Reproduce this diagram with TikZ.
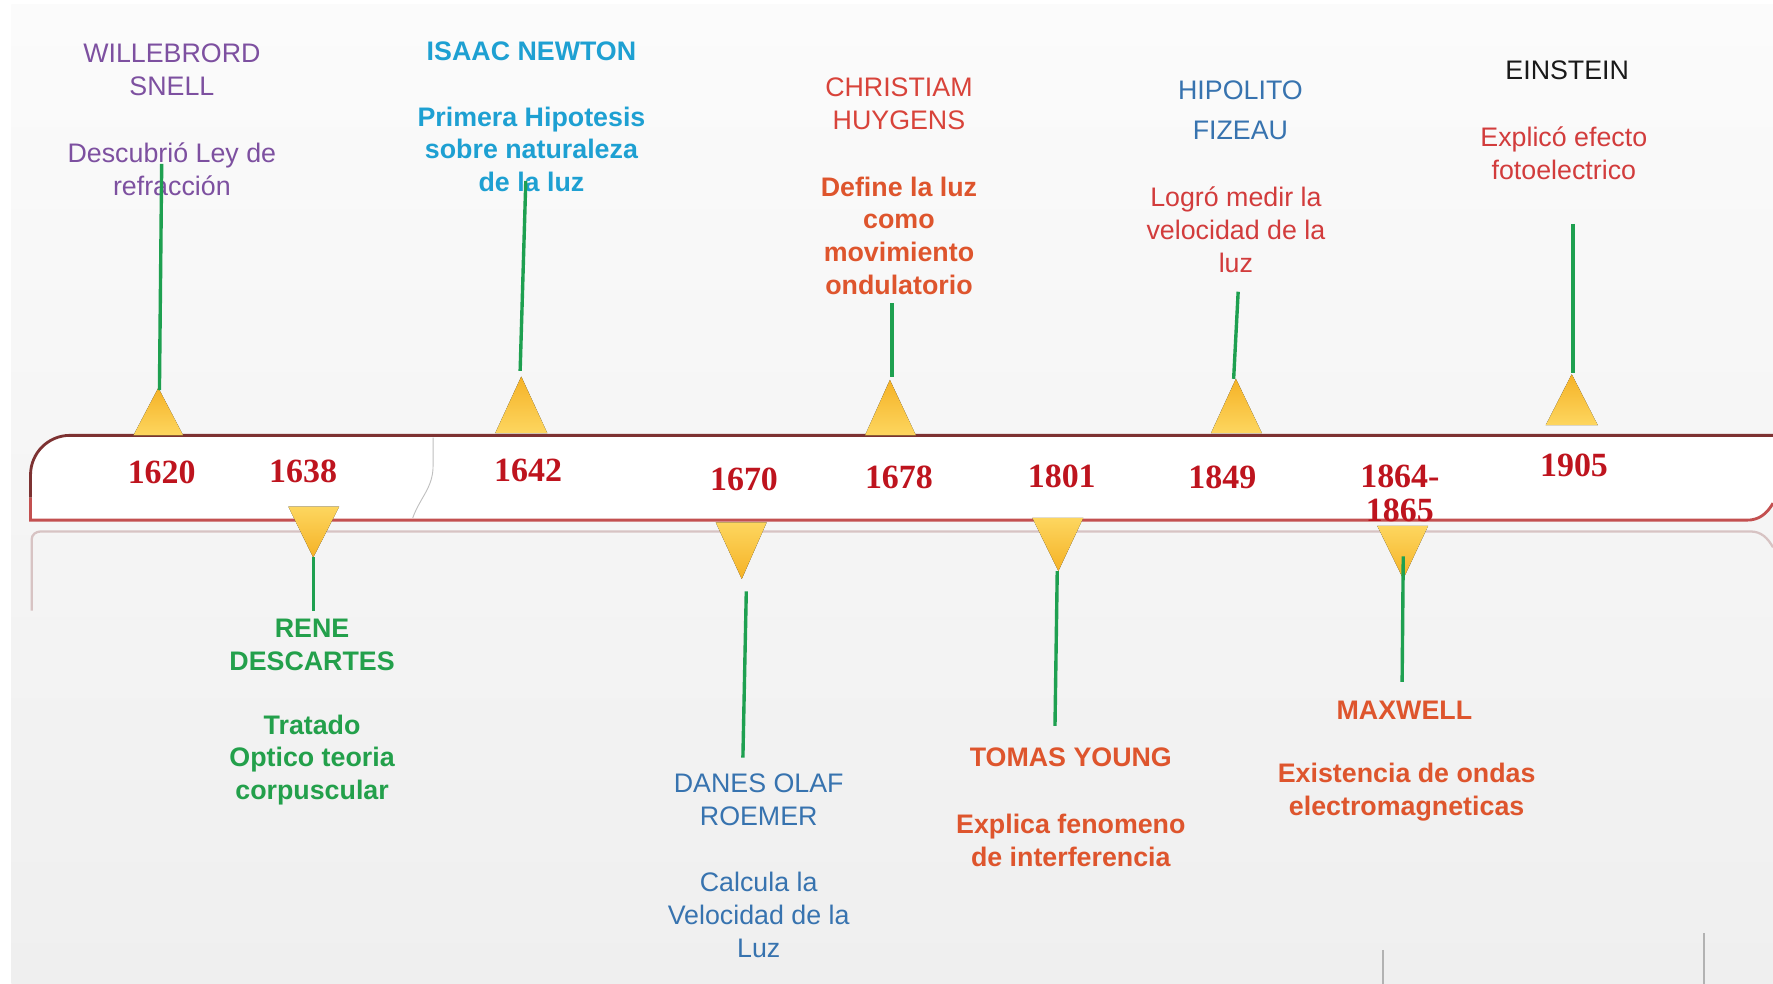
\documentclass[tikz,border=0pt]{standalone}
\usepackage{fontspec}
\setmainfont{Liberation Sans}
\newfontfamily\yearfont{Liberation Serif}
\definecolor{bgtop}{RGB}{251,251,251}
\definecolor{bgbot}{RGB}{239,239,239}
\definecolor{snellc}{RGB}{125,80,160}
\definecolor{newtonc}{RGB}{30,160,210}
\definecolor{redname}{RGB}{216,67,58}
\definecolor{orangec}{RGB}{222,85,45}
\definecolor{steelc}{RGB}{55,115,175}
\definecolor{redtxt}{RGB}{210,60,60}
\definecolor{greenc}{RGB}{35,160,75}
\definecolor{yearred}{RGB}{190,20,30}
\definecolor{stemgreen}{RGB}{30,160,80}
\definecolor{triorange}{RGB}{245,178,38}
\definecolor{triyellow}{RGB}{253,214,95}
\definecolor{bandtop}{RGB}{125,50,50}
\definecolor{bandbot}{RGB}{195,80,80}
\definecolor{panelc}{RGB}{215,195,195}
\tikzset{
  txt/.style={align=center, inner sep=0pt, font=\fontsize{23.7}{29}\selectfont},
  btxt/.style={align=center, inner sep=0pt, font=\fontsize{23.7}{29}\selectfont\bfseries},
  yearlbl/.style={align=center, inner sep=0pt, font=\fontsize{30}{30}\selectfont\yearfont\bfseries, text=yearred},
  stem/.style={draw=stemgreen, line width=3pt},
  triup/.style={top color=triorange, bottom color=triyellow, draw=none},
  tridown/.style={top color=triyellow, bottom color=triorange, draw=none},
}
\begin{document}
\begin{tikzpicture}[x=1pt,y=-1pt]
\useasboundingbox (0,0) rectangle (1568,870);
% background
\fill[white] (0,0) rectangle (1568,870);
\shade[top color=bgtop, bottom color=bgbot] (10,4) rectangle (1568,870);
% lower panel outline
\draw[panelc, line width=2pt] (28,540) -- (28,477) to[out=90,in=180] (36,470) -- (1548,470) to[out=0,in=120] (1568,484);
% timeline band
\fill[white] (27,460) -- (27,420) to[out=90,in=180] (62,385) -- (1568,385) -- (1568,445) to[out=240,in=0] (1545,460) -- cycle;
\draw[bandtop, line width=2.5pt] (27,440) -- (27,420) to[out=90,in=180] (62,385) -- (1568,385);
\draw[bandbot, line width=2.5pt] (27,440) -- (27,460) -- (1545,460) to[out=0,in=240] (1568,445);
\draw[black!25, line width=0.8pt] (383,387) -- (383,412) to[out=-90,in=70] (365,458);
% bottom-right marks
\draw[black!30, line width=1.5pt] (1223,840) -- (1223,870);
\draw[black!30, line width=1.5pt] (1507,825) -- (1507,870);

% years
\node[yearlbl] (y1620) at (143,418) {1620};
\node[yearlbl] (y1638) at (268,417) {1638};
\node[yearlbl] (y1642) at (467,416) {1642};
\node[yearlbl] (y1670) at (658,424) {1670};
\node[yearlbl] (y1678) at (795,422) {1678};
\node[yearlbl] (y1801) at (939,421) {1801};
\node[yearlbl] (y1849) at (1081,422) {1849};
\node[yearlbl] (y1864) at (1238,436) {1864-\\1865};
\node[yearlbl] (y1905) at (1392,412) {1905};

% upper texts
\node[txt, text=snellc] (snell) at (152,62) {WILLEBRORD\\SNELL};
\node[txt, text=snellc] (snelld) at (152,149.5) {Descubrió Ley de\\refracción};
\node[btxt, text=newtonc] (newton) at (470,45) {ISAAC NEWTON};
\node[btxt, text=newtonc] (newtond) at (470,132) {Primera Hipotesis\\sobre naturaleza\\de la luz};
\node[txt, text=redname] (huygens) at (795,91.5) {CHRISTIAM\\HUYGENS};
\node[btxt, text=orangec] (huygensd) at (795,208.5) {Define la luz\\como\\movimiento\\ondulatorio};
\node[txt, text=steelc] (fizeau) at (1097,97.5) {HIPOLITO\\[6pt]FIZEAU};
\node[txt, text=redtxt] (fizeaud) at (1093,203) {Logró medir la\\velocidad de la\\luz};
\node[txt, text=black!90] (einstein) at (1386,62) {EINSTEIN};
\node[txt, text=redtxt] (einsteind) at (1383,135.5) {Explicó efecto\\fotoelectrico};

% lower texts
\node[btxt, text=greenc] (descartes) at (276,570.5) {RENE\\DESCARTES};
\node[btxt, text=greenc] (descartesd) at (276,672) {Tratado\\Optico teoria\\corpuscular};
\node[txt, text=steelc] (roemer) at (671,707.5) {DANES OLAF\\ROEMER};
\node[txt, text=steelc] (roemerd) at (671,809) {Calcula la\\Velocidad de la\\Luz};
\node[btxt, text=orangec] (young) at (947,670) {TOMAS YOUNG};
\node[btxt, text=orangec] (youngd) at (947,743.5) {Explica fenomeno\\de interferencia};
\node[btxt, text=orangec] (maxwell) at (1242,628) {MAXWELL};
\node[btxt, text=orangec] (maxwelld) at (1244,700.5) {Existencia de ondas\\electromagneticas};

% triangles (up)
\fill[triup] (118,385) -- (140,343) -- (162,385) -- cycle;
\fill[triup] (438,383) -- (461,333) -- (484,383) -- cycle;
\fill[triup] (765,385) -- (787,336) -- (810,385) -- cycle;
\fill[triup] (1071,383) -- (1093,335) -- (1116,383) -- cycle;
\fill[triup] (1367,376) -- (1390,331) -- (1413,376) -- cycle;
% triangles (down)
\fill[tridown] (255,448) -- (277,493) -- (300,448) -- cycle;
\fill[tridown] (633,462) -- (656,512) -- (678,462) -- cycle;
\fill[tridown] (913,458) -- (936,505) -- (958,458) -- cycle;
\fill[tridown] (1218,465) -- (1241,512) -- (1263,465) -- cycle;

% stem end points
\coordinate (s1a) at (143,145); \coordinate (s1b) at (141,345);
\coordinate (s2a) at (465,160); \coordinate (s2b) at (460,328);
\coordinate (s3a) at (789,268); \coordinate (s3b) at (789,333);
\coordinate (s4a) at (1095,258); \coordinate (s4b) at (1091,335);
\coordinate (s5a) at (1391,198); \coordinate (s5b) at (1391,330);
\coordinate (s6a) at (277,493); \coordinate (s6b) at (277,540);
\coordinate (s7a) at (660,523); \coordinate (s7b) at (657,670);
\coordinate (s8a) at (935,505); \coordinate (s8b) at (933,642);
\coordinate (s9a) at (1241,492); \coordinate (s9b) at (1240,603);
\draw[stem] (s1a) -- (s1b);
\draw[stem] (s2a) -- (s2b);
\draw[stem] (s3a) -- (s3b);
\draw[stem] (s4a) -- (s4b);
\draw[stem] (s5a) -- (s5b);
\draw[stem] (s6a) -- (s6b);
\draw[stem] (s7a) -- (s7b);
\draw[stem] (s8a) -- (s8b);
\draw[stem] (s9a) -- (s9b);
\end{tikzpicture}
\end{document}
